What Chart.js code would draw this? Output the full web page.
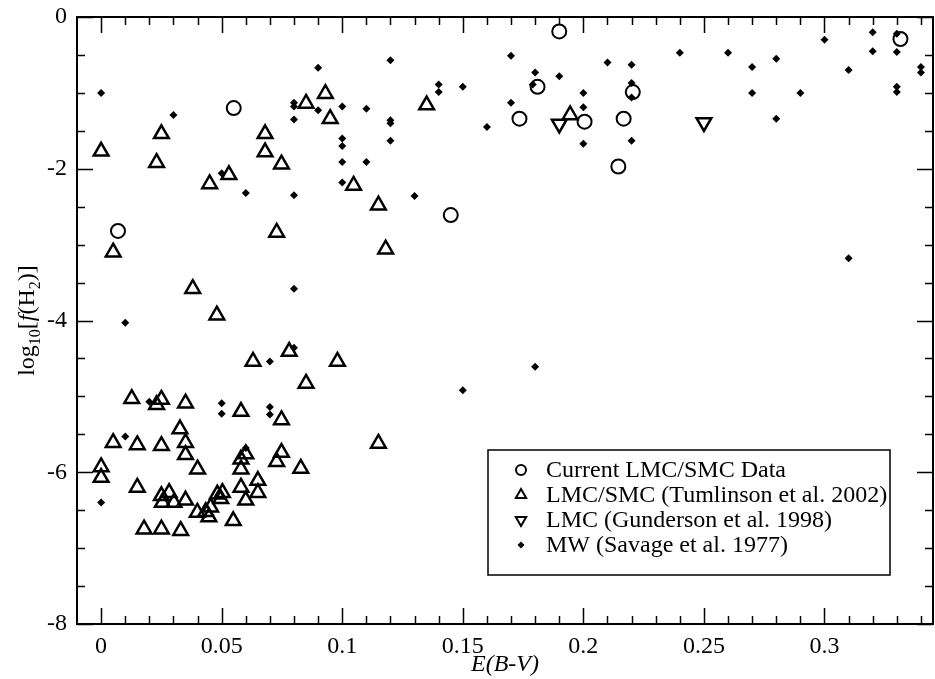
<!DOCTYPE html>
<html>
<head>
<meta charset="utf-8">
<script src="https://cdn.jsdelivr.net/npm/chart.js@4/dist/chart.umd.min.js"></script>
<style>
html,body{margin:0;padding:0;background:#fff;}
canvas{display:block;}
</style>
</head>
<body>
<canvas id="c" width="935" height="679"></canvas>
<script>
// Current LMC/SMC data (open circles)
const curX=[0.007,0.055,0.145,0.1735,0.181,0.19,0.2005,0.2145,0.2167,0.2205,0.3315];
const curY=[-2.82,-1.20,-2.61,-1.34,-0.92,-0.19,-1.38,-1.97,-1.34,-0.99,-0.29];

// Tumlinson et al. 2002 (open up triangles)
const tumX=[0,0.005,0.023,0.025,0.038,0.045,0.048,0.053,0.068,0.068,0.0748,0.0728,0.085,0.093,0.095,0.1047,0.115,0.118,0.135,0.1945,
  0.098,0.115,0.078,0.063,0.085,0.0127,0.023,0.025,0.035,0.058,0.0748,0.005,0.015,0.025,0.0327,0.035,0.035,0.040,0,0,
  0.015,0.060,0.058,0.058,0.0728,0.0748,0.0828,0.065,0.065,0.058,0.060,0.0548,0.0482,0.0503,0.0496,0.0399,0.0434,0.0454,0.0447,
  0.025,0.0282,0.0254,0.0302,0.035,0.0178,0.025,0.033];
const tumY=[-1.77,-3.10,-1.92,-1.54,-3.58,-2.20,-3.93,-2.08,-1.54,-1.78,-1.94,-2.84,-1.14,-1.01,-1.34,-2.22,-2.48,-3.06,-1.16,-1.29,
  -4.54,-5.62,-4.41,-4.54,-4.83,-5.03,-5.11,-5.04,-5.09,-5.20,-5.31,-5.61,-5.64,-5.65,-5.43,-5.61,-5.77,-5.96,-5.93,-6.07,
  -6.20,-5.76,-5.83,-5.96,-5.86,-5.74,-5.95,-6.11,-6.27,-6.20,-6.37,-6.64,-6.29,-6.27,-6.35,-6.53,-6.52,-6.46,-6.59,
  -6.31,-6.27,-6.40,-6.40,-6.37,-6.75,-6.75,-6.77];

// Gunderson et al. 1998 (open down triangles)
const gunX=[0.19,0.25];
const gunY=[-1.41,-1.39];

// Savage et al. 1977 (filled diamonds)
const mwX=[0,0.01,0.03,0.05,0.06,0.08,0.08,0.08,0.08,0.08,0.09,0.09,0.1,0.1,0.1,0.1,0.1,0.11,0.11,0.12,0.12,0.12,0.12,
  0.13,0.14,0.14,0.15,0.16,0.17,0.17,0.18,0.179,0.19,0.2,0.2,0.2,0.21,0.22,0.22,0.22,0.22,0.24,0.26,0.27,0.27,0.28,0.28,
  0.29,0.30,0.31,0.31,0.32,0.32,0.33,0.33,0.33,0.33,0.34,0.34,
  0.15,0.18,0.08,0.07,0.02,0.05,0.05,0.07,0.07,0.01,0.06,0];
const mwY=[-1.0,-4.03,-1.29,-2.06,-2.32,-1.13,-1.18,-1.35,-2.35,-3.58,-0.67,-1.23,-1.18,-1.60,-1.70,-1.91,-2.18,-1.21,-1.91,-0.57,-1.36,-1.40,-1.63,
  -2.36,-0.89,-0.99,-0.92,-1.45,-0.51,-1.13,-0.73,-0.89,-0.78,-1.0,-1.19,-1.67,-0.60,-0.63,-0.87,-1.06,-1.63,-0.47,-0.47,-0.66,-1.0,-0.55,-1.34,
  -1.0,-0.30,-0.70,-3.18,-0.20,-0.45,-0.22,-0.46,-0.92,-0.99,-0.66,-0.73,
  -4.92,-4.61,-4.36,-4.54,-5.07,-5.09,-5.23,-5.14,-5.24,-5.53,-5.68,-6.40];

const seriesLabels=['Current LMC/SMC Data','LMC/SMC (Tumlinson et al. 2002)','LMC (Gunderson et al. 1998)','MW (Savage et al. 1977)'];
const xTicks=[0,0.05,0.1,0.15,0.2,0.25,0.3];
const yTicks=[-8,-6,-4,-2,0];
const xRange=[-0.01,0.345];
const yRange=[-8,0];

const FONT='"Liberation Serif","Times New Roman",serif';
const pts=(xs,ys)=>xs.map((x,i)=>({x,y:ys[i]}));

const legendStyles=[
  {pointStyle:'circle',radius:5,rotation:0,fill:false,bw:2},
  {pointStyle:'triangle',radius:6,rotation:0,fill:false,bw:2},
  {pointStyle:'triangle',radius:6,rotation:180,fill:false,bw:2},
  {pointStyle:'rectRot',radius:3.5,rotation:0,fill:true,bw:0}
];

// inward ticks on all four sides plus frame
const framePlugin={
  id:'frame',
  beforeDatasetsDraw(chart){
    const {ctx,chartArea:a,scales:{x,y}}=chart;
    ctx.save();
    ctx.strokeStyle='#000';
    ctx.lineWidth=1.5;
    ctx.beginPath();
    for(let k=0;k<=34;k++){
      const v=k/100;
      const major=xTicks.some(t=>Math.abs(t-v)<1e-9);
      const len=major?16:8;
      const px=Math.round(x.getPixelForValue(v))+0.5;
      ctx.moveTo(px,a.bottom);ctx.lineTo(px,a.bottom-len);
      ctx.moveTo(px,a.top);ctx.lineTo(px,a.top+len);
    }
    for(let k=-16;k<=0;k++){
      const v=k/2;
      const major=yTicks.includes(v);
      const len=major?16:8;
      const py=Math.round(y.getPixelForValue(v))+0.5;
      ctx.moveTo(a.left,py);ctx.lineTo(a.left+len,py);
      ctx.moveTo(a.right,py);ctx.lineTo(a.right-len,py);
    }
    ctx.stroke();
    ctx.lineWidth=2;
    ctx.strokeRect(a.left,a.top,a.right-a.left,a.bottom-a.top);
    ctx.restore();
  }
};

// y title with subscripts, and the boxed legend inside the plot
const extrasPlugin={
  id:'extras',
  afterDraw(chart){
    const {ctx,chartArea:a}=chart;
    ctx.save();
    ctx.fillStyle='#000';
    // y axis title
    const parts=[['log','normal',24,0],['10','normal',16,6],['[','normal',24,0],['f','italic',24,0],['(H','normal',24,0],['2','normal',16,6],[')]','normal',24,0]];
    let total=0;
    parts.forEach(p=>{ctx.font=p[1]+' '+p[2]+'px '+FONT;total+=ctx.measureText(p[0]).width;});
    ctx.translate(34,(a.top+a.bottom)/2);
    ctx.rotate(-Math.PI/2);
    ctx.textBaseline='alphabetic';
    let cx=-total/2;
    parts.forEach(p=>{ctx.font=p[1]+' '+p[2]+'px '+FONT;ctx.fillText(p[0],cx,p[3]);cx+=ctx.measureText(p[0]).width;});
    ctx.setTransform(1,0,0,1,0,0);
    // legend
    const bx=a.left+411,by=a.top+433,bw=402,bh=125;
    ctx.lineWidth=1.5;
    ctx.strokeStyle='#000';
    ctx.strokeRect(bx,by,bw,bh);
    ctx.font='24px '+FONT;
    ctx.textBaseline='middle';
    chart.data.datasets.forEach((ds,i)=>{
      const s=legendStyles[i];
      const yy=by+20+i*25;
      ctx.lineWidth=s.bw;
      ctx.fillStyle=s.fill?'#000':'rgba(0,0,0,0)';
      ctx.strokeStyle='#000';
      Chart.helpers.drawPoint(ctx,{pointStyle:s.pointStyle,radius:s.radius,rotation:s.rotation,borderWidth:s.bw},bx+33,yy);
      ctx.fillStyle='#000';
      ctx.fillText(ds.label,bx+58,yy+1);
    });
    ctx.restore();
  }
};

const open={backgroundColor:'rgba(0,0,0,0)',borderColor:'#000'};
new Chart(document.getElementById('c'),{
  type:'scatter',
  data:{datasets:[
    {label:seriesLabels[0],data:pts(curX,curY),pointStyle:'circle',pointRadius:7,borderWidth:2,...open},
    {label:seriesLabels[1],data:pts(tumX,tumY),pointStyle:'triangle',pointRadius:8.5,borderWidth:2.5,...open},
    {label:seriesLabels[2],data:pts(gunX,gunY),pointStyle:'triangle',pointRotation:180,pointRadius:8.5,borderWidth:2.5,...open},
    {label:seriesLabels[3],data:pts(mwX,mwY),pointStyle:'rectRot',pointRadius:4,borderWidth:0,backgroundColor:'#000',borderColor:'#000'}
  ]},
  options:{
    responsive:false,
    animation:false,
    devicePixelRatio:1,
    layout:{autoPadding:false,padding:{top:17,right:2,left:0,bottom:0}},
    plugins:{legend:{display:false},tooltip:{enabled:false}},
    scales:{
      x:{
        type:'linear',min:xRange[0],max:xRange[1],
        grid:{display:false,drawTicks:false},
        border:{display:false},
        afterBuildTicks:s=>{s.ticks=xTicks.map(v=>({value:v}));},
        afterFit:s=>{s.height=55;s.paddingLeft=0;s.paddingRight=0;},
        ticks:{color:'#000',font:{family:FONT,size:24},padding:8,maxRotation:0,autoSkip:false,callback:v=>String(v)},
        title:{display:true,text:'E(B-V)',color:'#000',font:{family:FONT,size:24,style:'italic'},padding:{top:0,bottom:0}}
      },
      y:{
        type:'linear',min:yRange[0],max:yRange[1],
        grid:{display:false,drawTicks:false},
        border:{display:false},
        afterBuildTicks:s=>{s.ticks=yTicks.map(v=>({value:v}));},
        afterFit:s=>{s.width=77;s.paddingTop=0;s.paddingBottom=0;},
        ticks:{color:'#000',font:{family:FONT,size:24},padding:10,autoSkip:false,callback:v=>String(v)}
      }
    }
  },
  plugins:[framePlugin,extrasPlugin]
});
</script>
</body>
</html>
